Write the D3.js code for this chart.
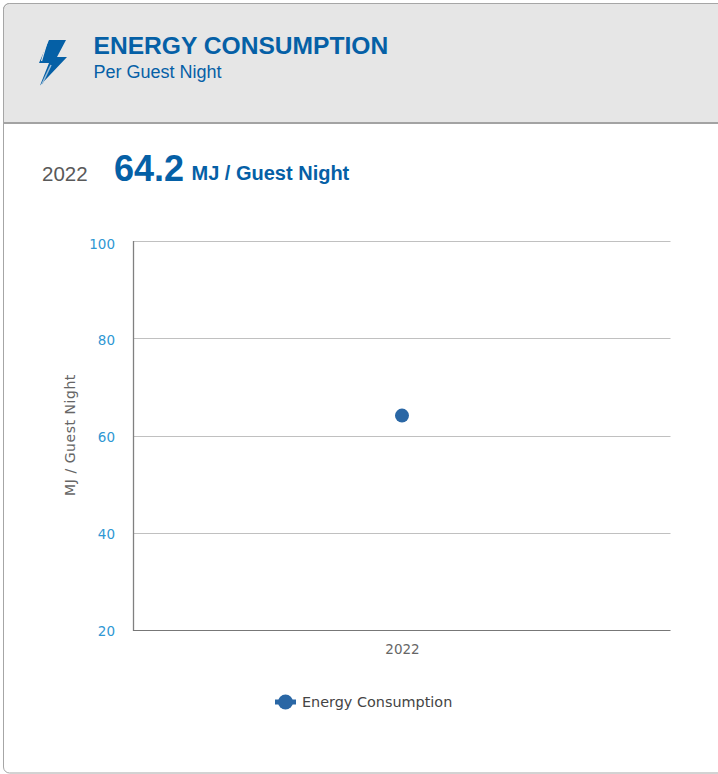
<!DOCTYPE html>
<html><head><meta charset="utf-8">
<script src="https://cdn.jsdelivr.net/npm/d3@7"></script>
<style>html,body{margin:0;padding:0;background:#fff;overflow:hidden}svg{display:block}</style>
</head><body><div id="chart"></div>
<script>
const years = ["2022"];
const seriesName = "Energy Consumption";
const energyValues = [64.2];
const yTicks = [20, 40, 60, 80, 100];
const yDomain = [20, 100];
const title = "ENERGY CONSUMPTION", subtitle = "Per Guest Night", unit = "MJ / Guest Night";

const W = 718, H = 774;
const blue = "#0560a6", arial = "'Liberation Sans',Arial,sans-serif", tickFont = "'DejaVu Sans',sans-serif";
const svg = d3.select("#chart").append("svg").attr("width", W).attr("height", H);

// card
svg.append("rect").attr("x",3.5).attr("y",3.5).attr("width",730).attr("height",769.5).attr("rx",6)
  .attr("fill","#fff").attr("stroke","#a6a6a6");
svg.append("path").attr("d","M4,123V10a6,6 0 0 1 6,-6H718V123Z").attr("fill","#e6e6e6");
svg.append("rect").attr("x",4).attr("y",122).attr("width",714).attr("height",2).attr("fill","#a3a3a3");
svg.append("path").attr("d","M3.5,123V9.5a6,6 0 0 1 6,-6H718").attr("fill","none").attr("stroke","#a6a6a6");

// bolt icon
svg.append("path").attr("d","M49,40H66L57,57H67L40,85.5L49,63H39Z").attr("fill",blue);
svg.append("path").attr("d","M47.5,40.5L41.5,61").attr("stroke","#e6e6e6").attr("stroke-width",1.2);
svg.append("path").attr("d","M51,65L42,84").attr("stroke","#9dbcd6").attr("stroke-width",1.5);

const text = (x,y,s,size,fill,weight,anchor) => svg.append("text").attr("x",x).attr("y",y).text(s)
  .attr("font-family",arial).attr("font-size",size).attr("fill",fill)
  .attr("font-weight",weight||"normal").attr("text-anchor",anchor||"start");
text(93.5,54,title,24.6,blue,"bold");
text(93.5,78,subtitle,18,blue);
text(42,181,years[0],20.5,"#595959");
text(114,181,d3.format(".1f")(energyValues[0]),36,blue,"bold");
text(191.5,180,unit,20,blue,"bold");

// plot
const x = d3.scalePoint().domain(years).range([134,670]).padding(0.5);
const y = d3.scaleLinear().domain(yDomain).range([630.5,241.5]);
const labelY = d3.scaleLinear().domain(yDomain).range([630,243]);
const crisp = v => Math.floor(v) + 0.5;

const gy = svg.append("g").attr("transform","translate(134,0)")
  .call(d3.axisLeft(y).tickValues(yTicks).tickSize(0).tickPadding(19));
gy.select(".domain").remove();
gy.selectAll("text").attr("font-family",tickFont).attr("font-size",13.5).attr("fill","#2f97d3")
  .attr("y",d=>labelY(d)-y(d)).attr("dy","5px");

svg.append("g").selectAll("line").data(yTicks.filter(d=>d!==yDomain[0])).join("line")
  .attr("x1",134).attr("x2",670.5).attr("y1",d=>crisp(y(d))).attr("y2",d=>crisp(y(d)))
  .attr("stroke","#c0c0c0");
svg.append("line").attr("x1",133.5).attr("x2",133.5).attr("y1",241).attr("y2",631).attr("stroke","#808080").attr("stroke-width",1.3);

const gx = svg.append("g").attr("transform","translate(0,630.5)")
  .call(d3.axisBottom(x).tickSize(0).tickPadding(14));
gx.select(".domain").attr("stroke","#777").attr("stroke-width",1.2).attr("d","M133,0H670.5");
gx.selectAll("text").attr("font-family",tickFont).attr("font-size",13.5).attr("fill","#666");

svg.append("text").attr("transform","translate(75,435) rotate(-90)").attr("text-anchor","middle")
  .attr("font-family",tickFont).attr("font-size",14).attr("letter-spacing",0.55).attr("fill","#666").text(unit);

svg.append("g").selectAll("circle").data(energyValues).join("circle")
  .attr("cx",(d,i)=>x(years[i])).attr("cy",d=>y(d)).attr("r",7).attr("fill","#2a67a5");

// legend
svg.append("rect").attr("x",275).attr("y",699.5).attr("width",21).attr("height",5).attr("fill","#2a67a5");
svg.append("circle").attr("cx",285.5).attr("cy",702).attr("r",7.5).attr("fill","#2a67a5");
svg.append("text").attr("x",302).attr("y",707).text(seriesName)
  .attr("font-family",tickFont).attr("font-size",14.4).attr("fill","#444");
</script></body></html>
